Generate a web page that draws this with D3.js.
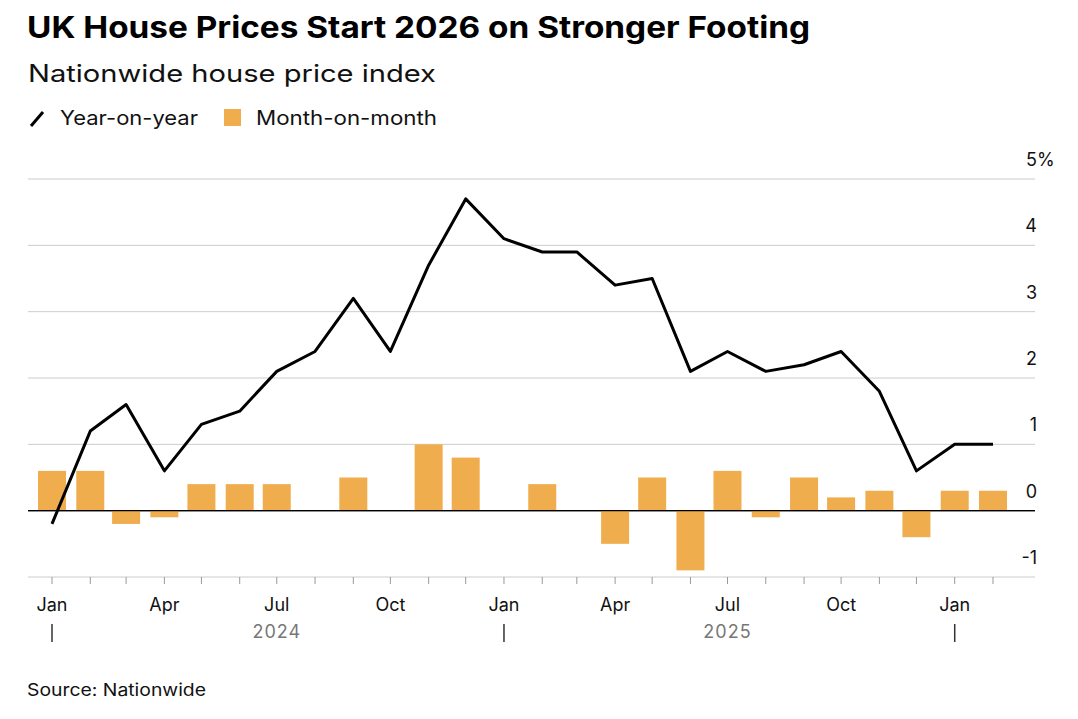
<!DOCTYPE html>
<html><head><meta charset="utf-8">
<script src="https://cdn.jsdelivr.net/npm/d3@7"></script>
<style>body{margin:0;background:#fff;font-family:Inter,"Noto Sans",sans-serif}</style>
</head><body><svg id="c" width="1078" height="719"></svg>
<script>
const months = ["2024-01","2024-02","2024-03","2024-04","2024-05","2024-06","2024-07","2024-08","2024-09","2024-10","2024-11","2024-12","2025-01","2025-02","2025-03","2025-04","2025-05","2025-06","2025-07","2025-08","2025-09","2025-10","2025-11","2025-12","2026-01","2026-02"];
const yoy = [-0.2,1.2,1.6,0.6,1.3,1.5,2.1,2.4,3.2,2.4,3.7,4.7,4.1,3.9,3.9,3.4,3.5,2.1,2.4,2.1,2.2,2.4,1.8,0.6,1.0,1.0];
const mom = [0.6,0.6,-0.2,-0.1,0.4,0.4,0.4,0,0.5,0,1.0,0.8,0,0.4,0,-0.5,0.5,-0.9,0.6,-0.1,0.5,0.2,0.3,-0.4,0.3,0.3];
const yTicks = [-1,0,1,2,3,4,5];
const monthTickLabels = ["Jan","Apr","Jul","Oct"];
const years = [{label:"2024",mid:"2024-07"},{label:"2025",mid:"2025-07"}];
const yearDividers = ["2024-01","2025-01","2026-01"];

const svg = d3.select("#c");
const parse = d3.timeParse("%Y-%m");
const dates = months.map(parse);
const x = d3.scaleTime().domain([parse("2024-01"), parse("2026-02")]).range([52, 993]);
const y = d3.scaleLinear().domain([-1,5]).range([577,179]);
const gx0 = 28, gx1 = 1035;

function fit(sel,w){return sel.attr("textLength",w).attr("lengthAdjust","spacingAndGlyphs");}
fit(svg.append("text").attr("x",27).attr("y",38).attr("font-size",30).attr("font-weight",700).attr("fill","#000").text("UK House Prices Start 2026 on Stronger Footing"),783);
fit(svg.append("text").attr("x",28).attr("y",82).attr("font-size",24).attr("fill","#111").text("Nationwide house price index"),408);
svg.append("line").attr("x1",31).attr("y1",126).attr("x2",43).attr("y2",112).attr("stroke","#000").attr("stroke-width",3);
fit(svg.append("text").attr("x",60).attr("y",125).attr("font-size",20).attr("fill","#111").text("Year-on-year"),138);
svg.append("rect").attr("x",224).attr("y",109).attr("width",17).attr("height",17).attr("fill","#f0ad4e");
fit(svg.append("text").attr("x",256).attr("y",125).attr("font-size",20).attr("fill","#111").text("Month-on-month"),181);

yTicks.forEach(t=>{
  svg.append("line").attr("x1",gx0).attr("x2",gx1).attr("y1",y(t)).attr("y2",y(t))
    .attr("stroke", t===0? "#000":"#ccc").attr("stroke-width", t===0?1.3:1);
  svg.append("text").attr("x",1037).attr("y",y(t)-13).attr("text-anchor","end").attr("font-size",18).attr("fill","#111")
    .text(t);
  if(t===5) svg.append("text").attr("x",1037).attr("y",y(t)-13).attr("font-size",18).attr("fill","#111").text("%");
});

const bw = 28;
svg.selectAll("rect.b").data(mom).enter().append("rect").attr("class","b")
  .attr("x",(d,i)=>x(dates[i])-bw/2).attr("width",bw)
  .attr("y",d=>y(Math.max(0,d))).attr("height",d=>Math.abs(y(d)-y(0)))
  .attr("fill","#f0ad4e");
svg.append("line").attr("x1",gx0).attr("x2",gx1).attr("y1",y(0)).attr("y2",y(0)).attr("stroke","#000").attr("stroke-width",1.3);

svg.append("path").datum(yoy).attr("fill","none").attr("stroke","#000").attr("stroke-width",3).attr("stroke-linejoin","round")
  .attr("d", d3.line().x((d,i)=>x(dates[i])).y(d=>y(d)));

dates.forEach(d=>{
  svg.append("line").attr("x1",x(d)).attr("x2",x(d)).attr("y1",577).attr("y2",584).attr("stroke","#999");
});
dates.forEach((d,i)=>{
  const m = d3.timeFormat("%b")(d);
  if(monthTickLabels.includes(m))
    svg.append("text").attr("x",x(d)).attr("y",611).attr("text-anchor","middle").attr("font-size",18).attr("fill","#111").text(m);
});
yearDividers.forEach(s=>{
  svg.append("line").attr("x1",x(parse(s))).attr("x2",x(parse(s))).attr("y1",624).attr("y2",642).attr("stroke","#333").attr("stroke-width",1.5);
});
years.forEach(o=>{
  svg.append("text").attr("x",x(parse(o.mid))).attr("y",638).attr("text-anchor","middle").attr("font-size",18).attr("letter-spacing",1).attr("fill","#777").text(o.label);
});
fit(svg.append("text").attr("x",27).attr("y",696).attr("font-size",17).attr("fill","#111").text("Source: Nationwide"),179);
</script></body></html>
